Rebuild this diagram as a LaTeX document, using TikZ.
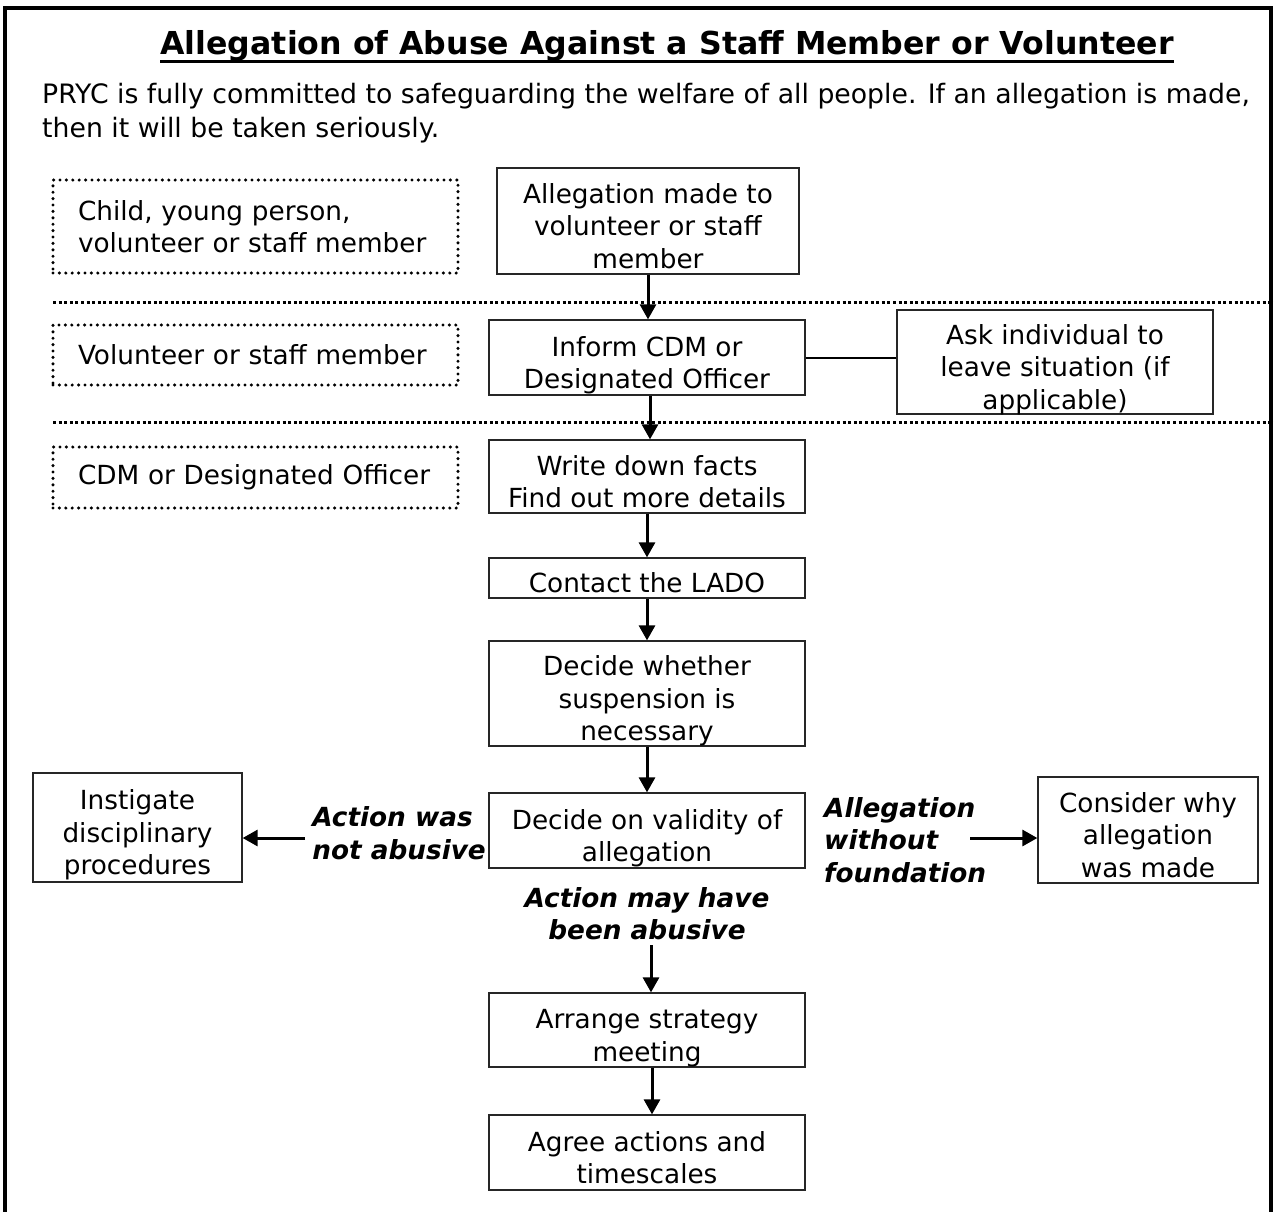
\documentclass[tikz,border=0pt]{standalone}
\usepackage{fontspec}
\setmainfont{DejaVu Sans}
\usetikzlibrary{arrows.meta}
\newcommand{\bxt}[1]{\raisebox{-14.5pt}{\begin{tabular}{@{}c@{}}#1\end{tabular}}}
\begin{document}
\begin{tikzpicture}[x=1pt,y=-1pt,
  every node/.style={inner sep=0pt, font=\fontsize{26.3}{32.5}\selectfont},
  box/.style={draw=black!85, line width=1.3pt, text height=0pt, text depth=0pt},
  dotbox/.style={draw, line width=3.4pt, line cap=round, dash pattern=on 0pt off 6.4pt, align=left, text width=355pt, inner xsep=25pt},
  sep/.style={line width=3pt, dash pattern=on 3pt off 2.6pt},
  arr/.style={line width=3pt, -{Triangle[length=15pt,width=16pt]}},
  lbl/.style={font=\fontsize{26.3}{32.5}\selectfont\bfseries\itshape}
]
\useasboundingbox (0,0) rectangle (1274,1211);
% frame
\draw[line width=4pt] (5,1215) -- (5,8) -- (1271,8) -- (1271,1215);
% title
\node[anchor=base, font=\fontsize{31.6}{34}\selectfont\bfseries] (title) at (667,54) {Allegation of Abuse Against a Staff Member or Volunteer};
\draw[line width=3pt] ([yshift=-7pt]title.base west) -- ([yshift=-7pt]title.base east);
\node[anchor=base west, align=left, font=\fontsize{26.7}{34}\selectfont] (intro) at (42,137) {PRYC is fully committed to safeguarding the welfare of all people. If an allegation is made,\\then it will be taken seriously.};
% separators
\draw[sep] (53,302) -- (1274,302);
\draw[sep] (53,422) -- (1274,422);
% role boxes
\node[dotbox, minimum height=93pt] (r1) at (255.5,226.5) {Child, young person,\\volunteer or staff member};
\node[dotbox, minimum height=60pt] (r2) at (255.5,355) {Volunteer or staff member};
\node[dotbox, minimum height=61pt] (r3) at (255.5,477.5) {CDM or Designated Officer};
% flow boxes
\node[box, minimum width=302pt, minimum height=106pt] (A) at (648,221) {\bxt{Allegation made to\\volunteer or staff\\member}};
\node[box, minimum width=316pt, minimum height=75pt] (B) at (647,357.5) {\bxt{Inform CDM or\\Designated Officer}};
\node[box, minimum width=316pt, minimum height=104pt] (C) at (1055,362) {\bxt{Ask individual to\\leave situation (if\\applicable)}};
\node[box, minimum width=316pt, minimum height=73pt] (D) at (647,476.5) {\bxt{Write down facts\\Find out more details}};
\node[box, minimum width=316pt, minimum height=40pt] (E) at (647,578) {\bxt{Contact the LADO}};
\node[box, minimum width=316pt, minimum height=105pt] (F) at (647,693.5) {\bxt{Decide whether\\suspension is\\necessary}};
\node[box, minimum width=316pt, minimum height=75pt] (G) at (647,830.5) {\bxt{Decide on validity of\\allegation}};
\node[box, minimum width=209pt, minimum height=109pt] (H) at (137.5,827.5) {\bxt{Instigate\\disciplinary\\procedures}};
\node[box, minimum width=220pt, minimum height=106pt] (I) at (1148,830) {\bxt{Consider why\\allegation\\was made}};
\node[box, minimum width=316pt, minimum height=74pt] (J) at (647,1030) {\bxt{Arrange strategy\\meeting}};
\node[box, minimum width=316pt, minimum height=75pt] (K) at (647,1152.5) {\bxt{Agree actions and\\timescales}};
% labels
\node[lbl, align=left, anchor=east] (nab) at (486,833) {Action was\\not abusive};
\node[lbl, align=left, anchor=west] (wf) at (824,840) {Allegation\\without\\foundation};
\node[lbl, align=center] (mab) at (647,913.5) {Action may have\\been abusive};
\coordinate (nabend) at (305,838);
\coordinate (wfend) at (970,838);
\coordinate (mabend) at (651,945);
% connectors
\draw[arr] (A.south) -- (A.south |- B.north);
\draw[line width=2pt] (B.east) -- (B.east -| C.west);
\draw[arr] ([xshift=3pt]B.south) -- ([xshift=3pt]D.north);
\draw[arr] (D.south) -- (E.north);
\draw[arr] (E.south) -- (F.north);
\draw[arr] (F.south) -- (G.north);
\draw[arr] (nabend) -- (nabend -| H.east);
\draw[arr] (wfend) -- (wfend -| I.west);
\draw[arr] (mabend) -- (mabend |- J.north);
\draw[arr] ([xshift=5pt]J.south) -- ([xshift=5pt]K.north);
\end{tikzpicture}
\end{document}
